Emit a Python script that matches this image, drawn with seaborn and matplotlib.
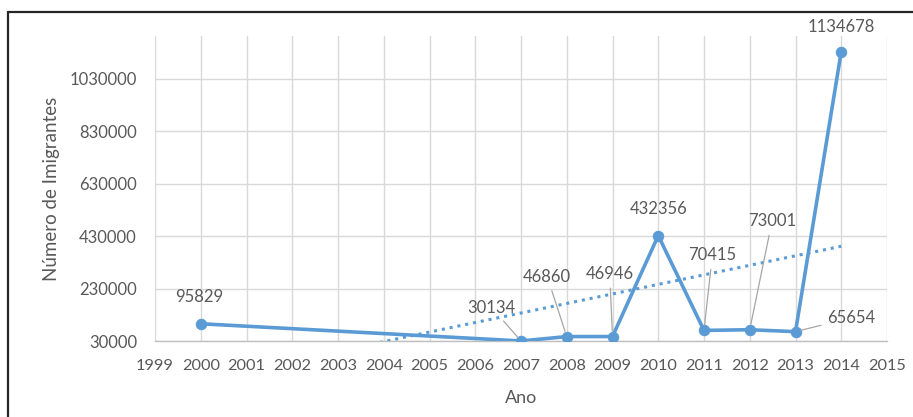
import numpy as np
import pandas as pd
import matplotlib
matplotlib.use("Agg")
import matplotlib.pyplot as plt
from matplotlib.lines import Line2D
import seaborn as sns

# Immigrant counts per year
anos = [2000, 2007, 2008, 2009, 2010, 2011, 2012, 2013, 2014]
imigrantes = [95829, 30134, 46860, 46946, 432356, 70415, 73001, 65654, 1134678]
anos_ticks = list(range(1999, 2016))
y_ticks = [30000, 230000, 430000, 630000, 830000, 1030000]

# label offsets (points) relative to each point, and whether a leader line is drawn
label_offsets = [(-1, 19), (-21, 24), (-14, 43), (-2, 45), (0, 19),
                 (6, 54), (16, 78), (40, 10), (0, 18)]
leader = [False, True, True, True, False, True, True, True, False]

df = pd.DataFrame({"Ano": anos, "Imigrantes": imigrantes})

sns.set_theme(style="white")
plt.rcParams["font.family"] = ["Lato", "DejaVu Sans"]

azul = "#5b9bd5"
texto = "#595959"
grade = "#d9d9d9"

fig = plt.figure(figsize=(9.13, 4.17), dpi=100)
ax = fig.add_axes([155 / 913, 1 - 341 / 417, 732 / 913, 305 / 417])

# linear trend line over the data range
coef = np.polyfit(anos, imigrantes, 1)
trend_x = np.array([anos[0], anos[-1]])
trend = pd.DataFrame({"Ano": trend_x, "Tendencia": np.polyval(coef, trend_x)})
sns.lineplot(data=trend, x="Ano", y="Tendencia", ax=ax, color=azul,
             lw=2.2, linestyle=(0, (1, 1.6)), zorder=3)

sns.lineplot(data=df, x="Ano", y="Imigrantes", ax=ax, color=azul, lw=2.6,
             marker="o", markersize=7.5, markeredgecolor=azul, zorder=4)

for x, y, (dx, dy), ld in zip(anos, imigrantes, label_offsets, leader):
    kw = {}
    if ld:
        kw["arrowprops"] = dict(arrowstyle="-", color="#a6a6a6", lw=0.9,
                                shrinkA=2, shrinkB=4)
    ax.annotate(f"{y}", xy=(x, y), xytext=(dx, dy), textcoords="offset points",
                ha="center", va="center", fontsize=12, color=texto,
                zorder=5, **kw)

ax.set_xlim(1999, 2015)
ax.set_ylim(30000, 1194000)
ax.set_xticks(anos_ticks)
ax.set_xticklabels([str(a) for a in anos_ticks])
ax.set_yticks(y_ticks)
ax.set_yticklabels([str(v) for v in y_ticks])
ax.tick_params(axis="x", labelsize=11.8, colors=texto, length=0, pad=13)
ax.tick_params(axis="y", labelsize=12, colors=texto, length=0, pad=13)

ax.grid(True, color=grade, lw=1)
ax.set_axisbelow(True)
for s in ["top", "right", "left"]:
    ax.spines[s].set_visible(False)
ax.spines["bottom"].set_color("#bfbfbf")
ax.spines["bottom"].set_linewidth(1)

ax.set_xlabel("Ano", fontsize=13, color=texto, labelpad=12)
ax.set_ylabel("Número de Imigrantes", fontsize=13.5, color=texto, labelpad=7)

# outer frame (top and left edges)
fig.add_artist(Line2D([8 / 913, 1.0], [1 - 12 / 417] * 2, color="#262626", lw=1.6,
                      transform=fig.transFigure))
fig.add_artist(Line2D([8 / 913] * 2, [0.0, 1 - 12 / 417], color="#262626", lw=1.6,
                      transform=fig.transFigure))

fig.savefig("out.png", dpi=100, facecolor="white")
